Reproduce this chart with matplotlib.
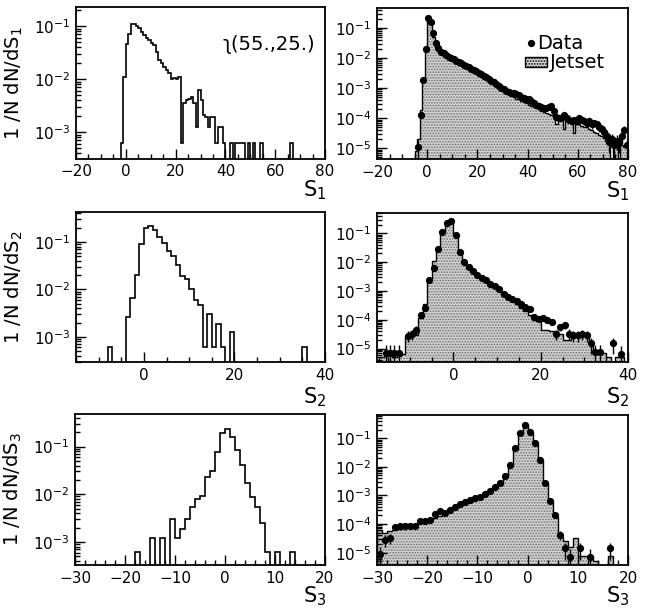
import numpy as np
import matplotlib
matplotlib.use('Agg')
import matplotlib.pyplot as plt
from matplotlib.ticker import LogLocator, MultipleLocator, NullFormatter
from matplotlib.patches import Rectangle

plt.rcParams['font.family'] = ['DejaVu Sans']
plt.rcParams['mathtext.default'] = 'regular'
plt.rcParams['hatch.linewidth'] = 0.8

# ---------------- data (1-unit bins, first bin lower edge given by *_start) ----------------
# S1, single histogram (left)
s1_left_start = -2
s1_left = [6.2e-4, 1.1e-2, 4.7e-2, 7.3e-2, 1.1e-1, 1.1e-1, 1.0e-1, 9.1e-2, 7.9e-2, 6.8e-2,
           5.9e-2, 5.5e-2, 4.9e-2, 4.4e-2, 3.3e-2, 2.3e-2, 2.0e-2, 1.74e-2, 1.48e-2, 1.32e-2,
           1.0e-2, 1.07e-2, 1.0e-2, 1.1e-2, 6.2e-4, 3.5e-3, 4.0e-3, 4.3e-3, 4.6e-3, 3.5e-3,
           1.24e-3, 6.2e-3, 4.0e-3, 2.1e-3, 1.9e-3, 1.24e-3, 1.9e-3, 1.9e-3, 6.2e-4, 1.24e-3,
           1.24e-3, 6.2e-4, 0, 0, 6.2e-4, 0, 6.2e-4, 6.2e-4, 6.2e-4, 6.2e-4,
           0, 6.2e-4, 0, 6.2e-4, 0, 0, 6.2e-4, 0, 0, 0,
           0, 0, 0, 0, 0, 0, 0, 0, 6.2e-4, 0]

# S1, Data vs Jetset (right)
s1_right_start = -5
s1_jetset = [7.9e-6, 2.0e-5, 1.9e-4, 1.9e-3, 2.4e-2, 2.2e-1, 1.45e-1, 5.0e-2, 2.5e-2, 1.8e-2,
             1.5e-2, 1.32e-2, 1.17e-2, 1.05e-2, 9.5e-3, 8.5e-3, 7.6e-3, 6.9e-3, 6.2e-3, 5.5e-3,
             4.9e-3, 4.5e-3, 4.0e-3, 3.5e-3, 3.2e-3, 2.8e-3, 2.5e-3, 2.2e-3, 2.0e-3, 1.74e-3,
             1.51e-3, 1.32e-3, 1.17e-3, 1.02e-3, 8.9e-4, 7.9e-4, 7.1e-4, 6.3e-4, 5.6e-4, 5.0e-4,
             4.5e-4, 4.2e-4, 3.8e-4, 3.5e-4, 3.2e-4, 2.8e-4, 2.6e-4, 2.4e-4, 2.2e-4, 2.0e-4,
             1.8e-4, 1.66e-4, 1.51e-4, 1.38e-4, 1.26e-4, 1.12e-4, 6.3e-5, 1.0e-4, 8.9e-5, 4.5e-5,
             7.9e-5, 7.9e-5, 7.1e-5, 3.2e-5, 6.3e-5, 6.3e-5, 5.6e-5, 5.0e-5, 5.0e-5, 4.5e-5,
             4.0e-5, 3.5e-5, 3.2e-5, 2.8e-5, 2.5e-5, 2.2e-5, 1.8e-5, 1.4e-5, 4.0e-6, 1.26e-5,
             1.4e-5, 4.0e-6, 1.26e-5, 1.12e-5, 1.26e-5]
s1_data = [0, 1.1e-5, 1.26e-4, 1.9e-3, 2.0e-2, 2.1e-1, 1.6e-1, 6.6e-2, 3.1e-2, 2.1e-2,
           1.6e-2, 1.45e-2, 1.23e-2, 1.1e-2, 1.0e-2, 9.1e-3, 8.1e-3, 7.4e-3, 6.6e-3, 6.0e-3,
           5.4e-3, 4.9e-3, 4.4e-3, 4.0e-3, 3.6e-3, 3.2e-3, 3.0e-3, 2.6e-3, 2.3e-3, 2.0e-3,
           1.74e-3, 1.55e-3, 1.35e-3, 1.17e-3, 1.0e-3, 9.1e-4, 8.3e-4, 7.6e-4, 7.1e-4, 6.8e-4,
           6.6e-4, 6.0e-4, 5.2e-4, 4.8e-4, 4.5e-4, 4.2e-4, 3.8e-4, 3.3e-4, 2.8e-4, 2.5e-4,
           2.4e-4, 2.2e-4, 2.1e-4, 2.4e-4, 2.6e-4, 1.8e-4, 1.12e-4, 1.05e-4, 1.0e-4, 1.26e-4,
           1.0e-4, 8.9e-5, 7.9e-5, 8.9e-5, 7.9e-5, 1.0e-4, 8.9e-5, 7.9e-5, 7.1e-5, 7.9e-5,
           6.3e-5, 7.1e-5, 6.3e-5, 5.0e-5, 4.5e-5, 3.5e-5, 2.5e-5, 1.6e-5, 2.0e-5, 1.26e-5,
           1.8e-5, 1.6e-5, 2.5e-5, 4.0e-5, 1.26e-5]

# S2, single histogram (left)
s2_left_start = -8
s2_left = [6.2e-4, 0, 0, 0, 2.6e-3, 6.5e-3, 2.0e-2, 9.3e-2, 2.0e-1, 2.2e-1,
           1.8e-1, 1.3e-1, 9.5e-2, 6.6e-2, 5.1e-2, 3.3e-2, 1.9e-2, 1.66e-2, 1.0e-2, 6.0e-3,
           4.6e-3, 6.2e-4, 3.0e-3, 6.2e-4, 1.86e-3, 6.2e-4, 0, 1.24e-3, 0, 0,
           0, 0, 0, 0, 0, 0, 0, 0, 0, 0,
           0, 0, 0, 6.2e-4, 0]

# S2, Data vs Jetset (right)
s2_right_start = -17
s2_jetset = [5.0e-6, 5.6e-6, 6.3e-6, 5.0e-6, 5.6e-6, 6.3e-6, 2.8e-5, 2.9e-5, 2.9e-5, 1.12e-4,
             3.5e-4, 2.5e-3, 1.12e-2, 3.2e-2, 1.12e-1, 2.4e-1, 2.5e-1, 8.9e-2, 2.5e-2, 1.0e-2,
             6.3e-3, 4.5e-3, 3.2e-3, 2.5e-3, 2.0e-3, 1.6e-3, 1.26e-3, 1.0e-3, 7.1e-4, 5.6e-4,
             4.5e-4, 3.5e-4, 2.5e-4, 2.0e-4, 1.41e-4, 1.0e-4, 8.9e-5, 4.5e-5, 4.5e-5, 4.0e-5,
             4.0e-5, 3.2e-5, 2.0e-5, 2.0e-5, 2.5e-5, 2.8e-5, 2.8e-5, 3.2e-5, 1.6e-5, 7.9e-6,
             7.1e-6, 7.1e-6, 5.0e-6, 0, 5.0e-6, 5.0e-6, 0]
s2_data = [0, 7.1e-6, 7.1e-6, 7.1e-6, 7.1e-6, 0, 2.8e-5, 3.2e-5, 4.4e-5, 1.45e-4,
           2.5e-4, 2.4e-3, 6.3e-3, 2.8e-2, 1.15e-1, 2.2e-1, 2.6e-1, 8.7e-2, 2.3e-2, 1.02e-2,
           6.9e-3, 5.0e-3, 3.5e-3, 2.8e-3, 2.4e-3, 1.8e-3, 1.48e-3, 1.12e-3, 7.9e-4, 6.3e-4,
           5.2e-4, 4.5e-4, 3.5e-4, 2.8e-4, 2.4e-4, 1.26e-4, 1.1e-4, 1.17e-4, 1.0e-4, 8.5e-5,
           3.2e-5, 5.6e-5, 6.5e-5, 3.3e-5, 2.9e-5, 2.9e-5, 3.2e-5, 2.9e-5, 1.5e-5, 7.6e-6,
           7.6e-6, 0, 0, 1.5e-5, 0, 6.6e-6, 0]

# S3, single histogram (left)
s3_left_start = -18
s3_left = [6.2e-4, 0, 0, 1.24e-3, 0, 1.24e-3, 0, 3.0e-3, 1.24e-3, 1.9e-3,
           3.1e-3, 5.5e-3, 8.1e-3, 9.1e-3, 2.3e-2, 3.0e-2, 7.8e-2, 1.9e-1, 2.3e-1, 1.6e-1,
           8.5e-2, 4.1e-2, 1.7e-2, 8.9e-3, 5.5e-3, 2.5e-3, 6.2e-4, 0, 6.2e-4, 0,
           0, 6.2e-4, 0]

# S3, Data vs Jetset (right)
s3_right_start = -30
s3_jetset = [6.3e-5, 5.0e-5, 5.6e-5, 6.3e-5, 6.6e-5, 7.1e-5, 7.6e-5, 7.9e-5, 1.07e-4, 1.17e-4,
             1.32e-4, 1.58e-4, 1.9e-4, 2.2e-4, 2.6e-4, 3.3e-4, 4.2e-4, 5.0e-4, 6.0e-4, 7.2e-4,
             8.5e-4, 1.05e-3, 1.35e-3, 1.86e-3, 2.6e-3, 4.3e-3, 1.05e-2, 4.2e-2, 1.41e-1, 3.0e-1,
             1.66e-1, 6.3e-2, 1.78e-2, 2.8e-3, 6.6e-4, 1.78e-4, 3.5e-5, 2.5e-5, 1.6e-5, 3.2e-5,
             7.9e-6, 7.9e-6, 7.9e-6, 5.0e-6, 0, 0, 7.9e-6, 0, 0, 0]
s3_data = [9.3e-6, 2.8e-5, 3.2e-5, 8.1e-5, 8.3e-5, 8.5e-5, 8.7e-5, 8.7e-5, 1.23e-4, 1.32e-4,
           1.41e-4, 2.2e-4, 2.75e-4, 2.4e-4, 3.2e-4, 4.1e-4, 5.1e-4, 5.9e-4, 6.8e-4, 7.9e-4,
           9.1e-4, 1.15e-3, 1.48e-3, 2.0e-3, 2.7e-3, 4.6e-3, 1.17e-2, 4.5e-2, 1.48e-1, 2.9e-1,
           1.7e-1, 6.6e-2, 1.74e-2, 2.7e-3, 6.2e-4, 2.1e-4, 4.2e-5, 1.4e-5, 7.2e-6, 0,
           1.4e-5, 0, 7.2e-6, 0, 0, 0, 1.4e-5, 0, 0, 0]

one_event = 5e-6   # weight of a single data entry in the right-hand plots

# ---------------- figure ----------------
W, H = 656, 612
fig = plt.figure(figsize=(W / 100, H / 100), dpi=100)


def add_ax(l, t, r, b):
    return fig.add_axes([l / W, 1 - b / H, (r - l) / W, (b - t) / H])


TINY = 1e-12
FILL = '#d2d2d2'
DOTS = '#6e6e6e'


def edges_of(start, vals):
    return np.arange(start, start + len(vals) + 1, 1.0)


def style(ax, xlim, ylim, xmaj, xmin, xlabel, ylabel=None, xl_y=-0.22):
    ax.set_yscale('log')
    ax.set_xlim(*xlim)
    ax.set_ylim(*ylim)
    ax.xaxis.set_major_locator(MultipleLocator(xmaj))
    ax.xaxis.set_minor_locator(MultipleLocator(xmin))
    ax.yaxis.set_major_locator(LogLocator(base=10, numticks=12))
    ax.yaxis.set_minor_locator(LogLocator(base=10, subs=np.arange(2, 10), numticks=12))
    ax.yaxis.set_minor_formatter(NullFormatter())
    ax.tick_params(which='both', direction='in', top=False, right=False,
                   labelsize=11, width=1)
    ax.tick_params(which='major', length=7, pad=4)
    ax.tick_params(which='minor', length=3.5)
    for s in ax.spines.values():
        s.set_linewidth(1.3)
    ax.text(0.96, xl_y, xlabel, transform=ax.transAxes, fontsize=15,
            ha='center', va='center')
    if ylabel is not None:
        ax.set_ylabel(ylabel, fontsize=14)
        ax.yaxis.set_label_coords(-0.205, 0.5)


def single_hist(ax, start, vals):
    v = np.asarray(vals, dtype=float)
    e = edges_of(start, v)
    ax.stairs(np.where(v > 0, v, TINY), e, baseline=TINY, color='k', lw=1.2)


def compare(ax, start, jetset, data):
    j = np.asarray(jetset, dtype=float)
    d = np.asarray(data, dtype=float)
    e = edges_of(start, j)
    jj = np.where(j > 0, j, TINY)
    ax.stairs(jj, e, baseline=TINY, fill=True, facecolor=FILL,
              edgecolor=DOTS, hatch='......', lw=0)
    ax.stairs(jj, e, baseline=TINY, color='k', lw=1.0)
    c = 0.5 * (e[:-1] + e[1:])
    m = d > 0
    err = np.sqrt(d[m] * one_event)
    lo = np.minimum(err, d[m] * 0.999)
    ax.errorbar(c[m], d[m], yerr=[lo, err], fmt='o', ms=4.2, color='k',
                ecolor='k', elinewidth=1.0, capsize=0)


# Row 1
ax1 = add_ax(76, 7, 325, 158.5)
single_hist(ax1, s1_left_start, s1_left)
style(ax1, (-20, 80), (3.2e-4, 0.231), 20, 5, 'S$_1$', '1 /N dN/dS$_1$', xl_y=-0.21)
ax1.text(0.59, 0.75, '\u0285(55.,25.)', transform=ax1.transAxes, fontsize=14,
         ha='left', va='center')

ax2 = add_ax(377, 8, 628, 159)
compare(ax2, s1_right_start, s1_jetset, s1_data)
style(ax2, (-20, 80), (4.4e-6, 0.46), 20, 5, 'S$_1$', xl_y=-0.21)
ax2.plot([0.612], [0.768], 'o', ms=4.2, color='k', transform=ax2.transAxes)
ax2.text(0.637, 0.768, 'Data', transform=ax2.transAxes, fontsize=14, va='center')
ax2.add_patch(Rectangle((0.59, 0.61), 0.088, 0.066, transform=ax2.transAxes,
                        facecolor=FILL, edgecolor='k', hatch='......', lw=1.0))
ax2.text(0.69, 0.642, 'Jetset', transform=ax2.transAxes, fontsize=14, va='center')

# Row 2
ax3 = add_ax(76, 212, 325, 362)
single_hist(ax3, s2_left_start, s2_left)
style(ax3, (-15, 40), (2.95e-4, 0.43), 20, 5, 'S$_2$', '1 /N dN/dS$_2$', xl_y=-0.233)

ax4 = add_ax(377, 212.7, 628, 362)
compare(ax4, s2_right_start, s2_jetset, s2_data)
style(ax4, (-17.5, 40), (3.4e-6, 0.52), 20, 5, 'S$_2$', xl_y=-0.233)

# Row 3
ax5 = add_ax(75, 414, 325, 565)
single_hist(ax5, s3_left_start, s3_left)
style(ax5, (-30, 20), (3.3e-4, 0.48), 10, 2, 'S$_3$', '1 /N dN/dS$_3$', xl_y=-0.206)

ax6 = add_ax(377, 415, 628, 565)
compare(ax6, s3_right_start, s3_jetset, s3_data)
style(ax6, (-30, 20), (3.7e-6, 0.65), 10, 2, 'S$_3$', xl_y=-0.206)

fig.savefig('out.png', dpi=100)
